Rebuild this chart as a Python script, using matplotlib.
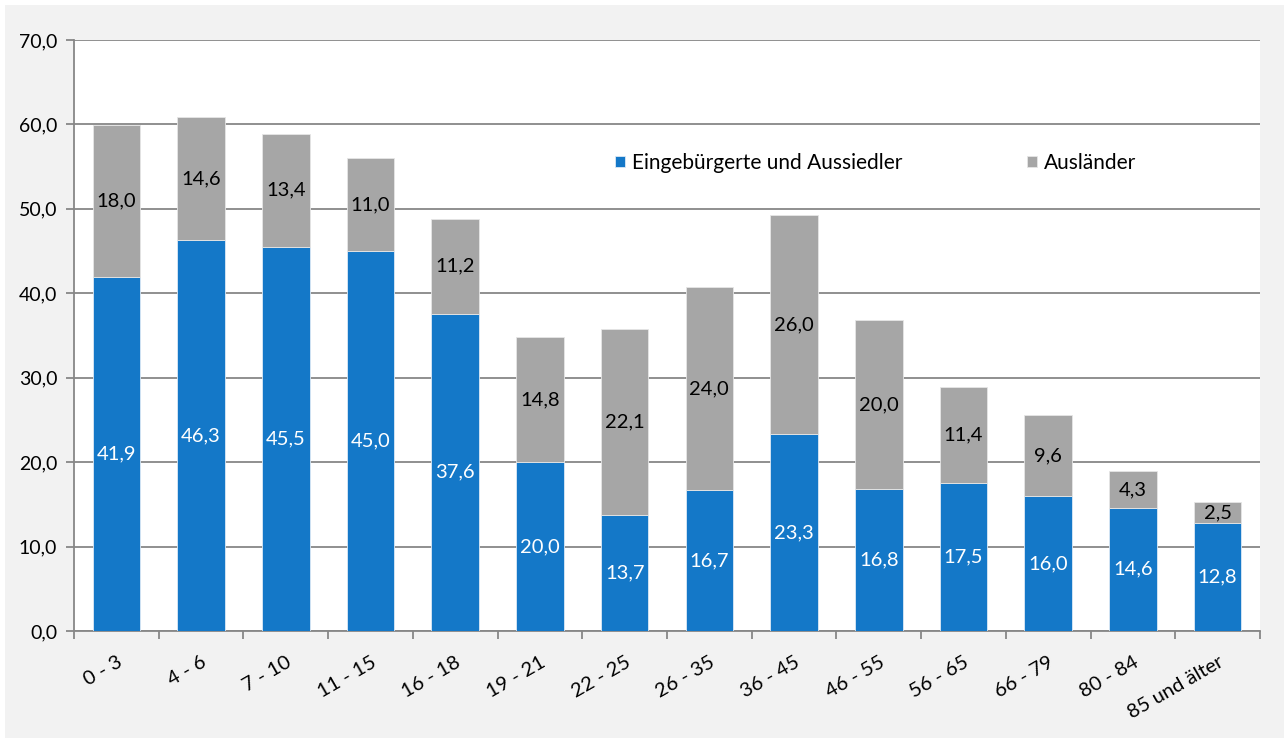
import matplotlib
matplotlib.use('Agg')
import matplotlib.pyplot as plt
from matplotlib.patches import Rectangle
from matplotlib.ticker import FuncFormatter, MultipleLocator
import numpy as np

# Daten aus der Abbildung
altersgruppen = ['0 - 3', '4 - 6', '7 - 10', '11 - 15', '16 - 18', '19 - 21', '22 - 25',
                 '26 - 35', '36 - 45', '46 - 55', '56 - 65', '66 - 79', '80 - 84', '85 und älter']
eingebuergerte = [41.9, 46.3, 45.5, 45.0, 37.6, 20.0, 13.7, 16.7, 23.3, 16.8, 17.5, 16.0, 14.6, 12.8]
auslaender = [18.0, 14.6, 13.4, 11.0, 11.2, 14.8, 22.1, 24.0, 26.0, 20.0, 11.4, 9.6, 4.3, 2.5]

blau = '#1478c8'
grau = '#a6a6a6'
hintergrund = '#f2f2f2'

plt.rcParams['font.family'] = ['Lato', 'DejaVu Sans']

fig = plt.figure(figsize=(12.84, 7.38), dpi=100)
fig.patch.set_facecolor('white')
# grauer Rahmen um das Diagramm
fig.patches.append(Rectangle((5 / 1284, 0), 1 - 5 / 1284, 1 - 5 / 738,
                             transform=fig.transFigure, facecolor=hintergrund,
                             edgecolor='none', zorder=-10))

ax = fig.add_axes([74 / 1284, (738 - 631) / 738, (1260 - 74) / 1284, (631 - 40) / 738])
ax.set_facecolor('white')

x = np.arange(len(altersgruppen))
b1 = ax.bar(x, eingebuergerte, width=0.56, color=blau, edgecolor='#dce9f5',
            linewidth=0.6, label='Eingebürgerte und Aussiedler', zorder=3)
b2 = ax.bar(x, auslaender, bottom=eingebuergerte, width=0.56, color=grau,
            edgecolor='#e6e6e6', linewidth=0.6, label='Ausländer', zorder=3)

fmt = lambda v: f'{v:.1f}'.replace('.', ',')
for xi, e, a in zip(x, eingebuergerte, auslaender):
    ax.text(xi, e / 2, fmt(e), ha='center', va='center', color='white', fontsize=14.5, zorder=4)
    ax.text(xi, e + a / 2, fmt(a), ha='center', va='center', color='black', fontsize=14.5, zorder=4)

ax.set_xlim(-0.5, len(altersgruppen) - 0.5)
ax.set_ylim(0, 70)
ax.yaxis.set_major_locator(MultipleLocator(10))
ax.yaxis.set_major_formatter(FuncFormatter(lambda v, _: fmt(v)))
ax.yaxis.grid(True, color='#878787', linewidth=1.3, zorder=0)

# Striche zwischen den Kategorien
ax.set_xticks(np.arange(len(altersgruppen) + 1) - 0.5)
ax.set_xticklabels([])
ax.set_xticks(x, minor=True)
ax.set_xticklabels(altersgruppen, minor=True, rotation=30, ha='right',
                   rotation_mode='anchor', fontsize=14.5)
ax.tick_params(axis='x', which='minor', length=0, pad=16)
ax.tick_params(axis='x', which='major', length=6, color='#878787', width=1.3)
ax.tick_params(axis='y', length=6, color='#878787', width=1.3, labelsize=14, pad=6)

for side in ['top', 'right']:
    ax.spines[side].set_visible(False)
for side in ['left', 'bottom']:
    ax.spines[side].set_color('#878787')
    ax.spines[side].set_linewidth(1.3)

ax.legend(loc='center left', bbox_to_anchor=(0.449, 0.792), ncol=2, frameon=False,
          fontsize=15, handlelength=0.5, handleheight=0.5, handletextpad=0.3,
          columnspacing=6.0, borderaxespad=0)

plt.savefig('out.png', dpi=100, facecolor=fig.get_facecolor())
